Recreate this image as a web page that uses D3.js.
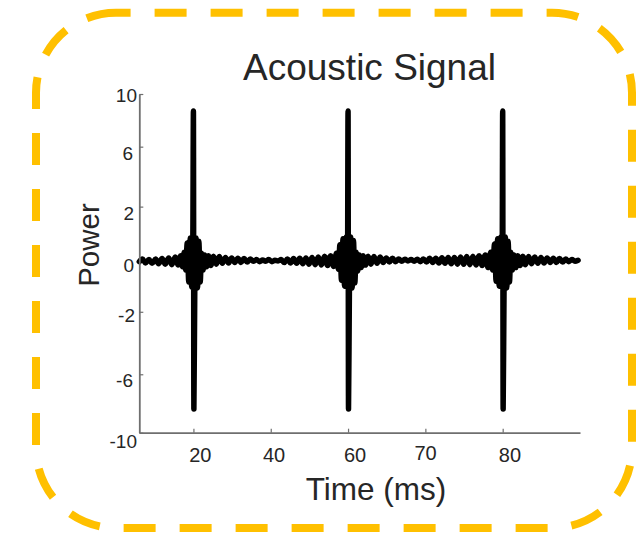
<!DOCTYPE html>
<html>
<head>
<meta charset="utf-8">
<script src="https://cdn.jsdelivr.net/npm/d3@7"></script>
<style>
  html, body { margin: 0; padding: 0; background: #fff; }
  svg { display: block; font-family: "Liberation Sans", Arial, Helvetica, sans-serif; }
</style>
</head>
<body>
<svg id="chart" width="636" height="535"></svg>
<script>
// ---------- data ----------
const chartTitle = "Acoustic Signal";
const xAxisTitle = "Time (ms)";
const yAxisTitle = "Power";

const xDomain = [6, 120];
const yDomain = [-10, 10];

const xTickValues = [20, 40, 60, 80, 100];
const xTickLabels = ["20", "40", "60", "70", "80"];

const yTickValues = [10, 6.89, 3.35, 0, -2.86, -6.55, -10];
const yTickLabels = ["10", "6", "2", "0", "-2", "-6", "-10"];

// time (ms) of each sampled extremum
const signalTime = [
  6.0, 6.8, 7.6, 8.5, 9.3, 10.2, 11.0, 11.9, 12.7, 13.6, 14.4, 15.3, 16.0, 16.7,
  17.2, 17.6, 18.0, 18.4, 18.8, 19.2, 19.55, 19.85, 20.0, 20.12, 20.35, 20.7, 21.05, 21.4, 21.75, 22.1, 22.5, 22.9, 23.4, 23.9,
  24.5, 25.2, 25.9, 26.7, 27.5, 28.3, 29.1, 29.9, 30.7, 31.5, 32.3, 33.1, 33.9, 34.7, 35.5, 36.3, 37.1, 37.9, 38.7, 39.5,
  40.3, 41.1, 41.9, 42.7, 43.5, 44.3, 45.1, 45.9, 46.7, 47.5, 48.3, 49.1, 49.9, 50.7, 51.5, 52.3, 53.1, 53.9, 54.7, 55.5,
  56.3, 57.0, 57.5, 57.9, 58.3, 58.7, 59.1, 59.5, 59.85, 60.0, 60.12, 60.35, 60.7, 61.05, 61.4, 61.75, 62.1, 62.5, 62.9, 63.4, 63.9,
  64.5, 65.2, 65.9, 66.7, 67.5, 68.3, 69.1, 69.9, 70.7, 71.5, 72.3, 73.1, 73.9, 74.7, 75.5, 76.3, 77.1, 77.9, 78.7, 79.5,
  80.3, 81.1, 81.9, 82.7, 83.5, 84.3, 85.1, 85.9, 86.7, 87.5, 88.3, 89.1, 89.9, 90.7, 91.5, 92.3, 93.1, 93.9, 94.7, 95.5,
  96.2, 96.9, 97.4, 97.9, 98.3, 98.7, 99.1, 99.5, 99.85, 100.0, 100.12, 100.35, 100.7, 101.05, 101.4, 101.75, 102.1, 102.5, 102.9, 103.4, 103.9,
  104.5, 105.2, 105.9, 106.7, 107.5, 108.3, 109.1, 109.9, 110.7, 111.5, 112.3, 113.1, 113.9, 114.7, 115.5, 116.3, 117.1, 117.9, 118.7, 119.5
];
// power at each of those times
const signalPower = [
  0.10, 0.25, 0.02, 0.22, 0.00, 0.25, -0.02, 0.28, -0.05, 0.32, -0.08, 0.38, -0.10, 0.45,
  -0.20, 0.65, -0.40, 1.20, -1.10, 1.50, -1.40, 1.60, 9.00, -8.60, -1.55, 1.50, -1.45, 1.30, -1.10, 0.60, -0.40, 0.50, -0.20, 0.45,
  -0.12, 0.42, -0.05, 0.40, 0.00, 0.35, 0.02, 0.32, 0.05, 0.30, 0.05, 0.28, 0.08, 0.25, 0.12, 0.22, 0.10, 0.20, 0.12, 0.22,
  0.10, 0.18, 0.14, 0.22, 0.05, 0.25, 0.02, 0.28, 0.00, 0.30, -0.02, 0.32, -0.05, 0.35, -0.08, 0.38, -0.10, 0.42, -0.12, 0.45,
  -0.18, 0.60, -0.35, 1.10, -1.00, 1.45, -1.35, 1.55, -1.40, 9.00, -8.60, -1.55, 1.55, -1.45, 1.35, -1.15, 0.65, -0.45, 0.50, -0.25, 0.45,
  -0.10, 0.42, -0.05, 0.40, 0.00, 0.38, 0.05, 0.32, 0.08, 0.30, 0.10, 0.26, 0.12, 0.24, 0.14, 0.22, 0.12, 0.24, 0.10, 0.26,
  0.08, 0.30, 0.05, 0.30, 0.02, 0.33, 0.00, 0.35, -0.03, 0.35, -0.05, 0.38, -0.06, 0.40, -0.08, 0.42, -0.10, 0.45, -0.12, 0.50,
  -0.25, 0.65, -0.40, 1.15, -1.05, 1.45, -1.35, 1.55, -1.40, 9.00, -8.60, -1.55, 1.55, -1.45, 1.30, -1.10, 0.65, -0.40, 0.50, -0.25, 0.45,
  -0.12, 0.42, -0.08, 0.40, -0.02, 0.38, 0.00, 0.35, 0.02, 0.32, 0.05, 0.30, 0.05, 0.28, 0.08, 0.25, 0.10, 0.22, 0.12, 0.18
];

// ---------- drawing ----------
const svg = d3.select("#chart");

// dashed rounded frame
svg.append("rect")
  .attr("x", 36).attr("y", 12.7)
  .attr("width", 596).attr("height", 515.3)
  .attr("rx", 80).attr("ry", 80)
  .attr("fill", "none")
  .attr("stroke", "#FFC000")
  .attr("stroke-width", 8)
  .attr("stroke-dasharray", "32,24")
  .attr("stroke-dashoffset", 17.4);

const x = d3.scaleLinear().domain(xDomain).range([139.3, 580]);
const y = d3.scaleLinear().domain(yDomain).range([432.7, 94]);

const axisColor = "#6f6f6f";
const textColor = "#262626";

// signal
const pts = signalTime.map((t, i) => [t, signalPower[i]]);
const line = d3.line()
  .x(d => x(d[0]))
  .y(d => y(d[1]))
  .curve(d3.curveMonotoneX);

svg.append("path")
  .datum(pts)
  .attr("d", line)
  .attr("fill", "none")
  .attr("stroke", "#000")
  .attr("stroke-width", 5.5)
  .attr("stroke-linejoin", "round")
  .attr("stroke-linecap", "round");

// y axis
const yLabelDx = [-0.3, -4.3, -3.3, -3.3, -2.3, -4.3, -0.3];
const yLabelDy = [1.3, 6, 6, 1.6, 3.3, 5.7, 8];
const gy = svg.append("g")
  .attr("transform", `translate(${x(xDomain[0])},0)`)
  .call(d3.axisLeft(y)
    .tickValues(yTickValues)
    .tickFormat((d, i) => yTickLabels[i])
    .tickSizeInner(-4)
    .tickSizeOuter(0)
    .tickPadding(2));
gy.select(".domain").attr("stroke", axisColor).attr("stroke-width", 1.8);
gy.selectAll(".tick line").attr("stroke", axisColor).attr("stroke-width", 1.2);
gy.selectAll(".tick text")
  .attr("fill", textColor)
  .attr("font-size", 19)
  .attr("font-family", "'Liberation Sans', Arial, sans-serif")
  .attr("dy", "0.35em")
  .attr("transform", (d, i) => `translate(${yLabelDx[i]},${yLabelDy[i]})`);
gy.selectAll(".tick").filter(d => d === 0).select("line").remove();

// x axis
const xLabelDx = [6.4, 2.8, 6.5, -0.3, 6.8];
const xLabelDy = [0, 0, 0, -2, 0];
const gx = svg.append("g")
  .attr("transform", `translate(0,${y(yDomain[0])})`)
  .call(d3.axisBottom(x)
    .tickValues(xTickValues)
    .tickFormat((d, i) => xTickLabels[i])
    .tickSizeInner(-4)
    .tickSizeOuter(0)
    .tickPadding(15.5));
gx.select(".domain").attr("stroke", axisColor).attr("stroke-width", 1.8);
gx.selectAll(".tick line").attr("stroke", axisColor).attr("stroke-width", 1.2);
gx.selectAll(".tick text")
  .attr("fill", textColor)
  .attr("font-size", 20)
  .attr("font-family", "'Liberation Sans', Arial, sans-serif")
  .attr("transform", (d, i) => `translate(${xLabelDx[i]},${xLabelDy[i]})`);

// titles
svg.append("text")
  .attr("x", 369.5).attr("y", 79.5)
  .attr("text-anchor", "middle")
  .attr("font-size", 37)
  .attr("fill", textColor)
  .text(chartTitle);

svg.append("text")
  .attr("x", 376).attr("y", 500)
  .attr("text-anchor", "middle")
  .attr("font-size", 31.5)
  .attr("fill", textColor)
  .text(xAxisTitle);

svg.append("text")
  .attr("transform", "translate(98.5,245) rotate(-90)")
  .attr("text-anchor", "middle")
  .attr("font-size", 29.5)
  .attr("fill", textColor)
  .text(yAxisTitle);
</script>
</body>
</html>
